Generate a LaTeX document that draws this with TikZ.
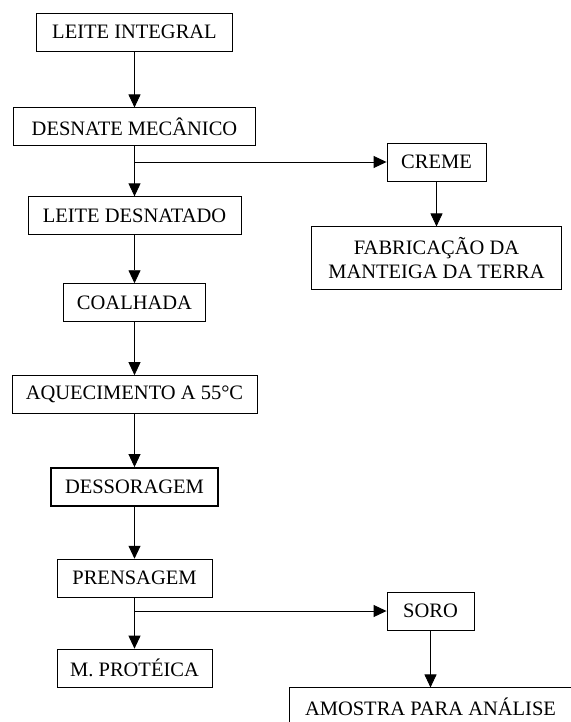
\documentclass[tikz,border=0pt]{standalone}
\usepackage{fontspec}
\setmainfont{Liberation Serif}
\usepackage{tikz}
\usetikzlibrary{positioning, calc, arrows.meta}
\tikzstyle{Box} = [
draw, line width=0.9pt,
minimum height=38pt, inner sep=2pt,
font=\fontsize{20.5}{24}\selectfont]
\tikzstyle{Arrow} = [
line width=0.9pt,
-{Triangle[length=13pt, width=12pt]}]

\begin{document}
\begin{tikzpicture}
    \useasboundingbox (0,0) rectangle (570pt,-722pt);
    \node [Box, minimum width=196pt] (li) at (134.5pt,-32pt) {LEITE INTEGRAL};
    \node [Box, minimum width=242pt, below=56pt of li] (dm) {DESNATE MECÂNICO};
    \node [Box, minimum width=213pt, below=50pt of dm] (ld) {LEITE DESNATADO};
    \node [Box, minimum width=142pt, below=48pt of ld] (co) {COALHADA};
    \node [Box, minimum width=245pt, below=53pt of co] (aq) {AQUECIMENTO A 55°C};
    \node [Box, minimum width=167pt, below=53pt of aq, line width=1.7pt] (ds) {DESSORAGEM};
    \node [Box, minimum width=155pt, below=52pt of ds] (pr) {PRENSAGEM};
    \node [Box, minimum width=155pt, below=51pt of pr] (mp) {M. PROTÉICA};
    \node [Box, minimum width=99pt] (cr) at (436.5pt,-162pt) {CREME};
    \node [Box, minimum width=250pt, minimum height=63pt, align=center,
           below=45pt of cr] (fb) {FABRICAÇÃO DA\\MANTEIGA DA TERRA};
    \node [Box, minimum width=87pt] (so) at (430.5pt,-611pt) {SORO};
    \node [Box, minimum width=282pt, below=57pt of so] (am) {AMOSTRA PARA ANÁLISE};

    \draw[Arrow] (li) -- (dm);
    \draw[Arrow] (dm) -- (ld);
    \draw[Arrow] (dm.south |- cr.west) -- (cr.west);
    \draw[Arrow] (cr) -- (cr.south |- fb.north);
    \draw[Arrow] (ld) -- (co);
    \draw[Arrow] (co) -- (aq);
    \draw[Arrow] (aq) -- (ds);
    \draw[Arrow] (ds) -- (pr);
    \draw[Arrow] (pr) -- (mp);
    \draw[Arrow] (pr.south |- so.west) -- (so.west);
    \draw[Arrow] (so) -- (so.south |- am.north);
\end{tikzpicture}
\end{document}
